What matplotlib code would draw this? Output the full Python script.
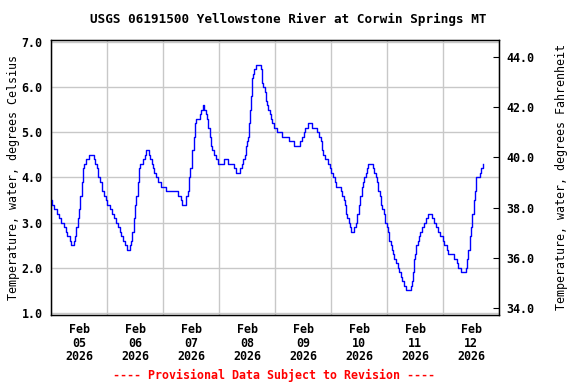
import numpy as np
import pandas as pd
import matplotlib
matplotlib.use("Agg")
import matplotlib.pyplot as plt
import matplotlib.dates as mdates

# hours after 2026-02-05 00:00 where the reading changes, and the reading (deg C)
hours = [0.0, 0.5, 1.2, 2.4, 3.3, 4.4, 5.4, 6.3, 7.0, 8.0, 8.7, 9.7, 10.3, 10.9,
         11.4, 12.0, 12.6, 13.2, 13.7, 14.3, 15.0, 16.3, 18.6, 18.9, 19.7, 20.3,
         20.9, 21.7, 22.6, 23.4, 24.2, 25.2, 26.0, 27.0, 28.0, 28.7, 29.4, 30.0,
         30.9, 31.9, 32.6, 33.7, 34.3, 34.9, 35.4, 36.0, 36.6, 37.2, 37.7, 38.3,
         39.4, 40.2, 40.9, 42.0, 42.6, 43.2, 43.7, 44.3, 44.9, 45.7, 47.2, 49.2,
         54.6, 55.5, 56.2, 57.7, 58.0, 58.6, 59.2, 59.7, 60.3, 60.6, 61.2, 61.7,
         62.3, 63.7, 64.3, 65.2, 65.7, 66.3, 66.9, 67.4, 68.0, 68.6, 69.1, 70.0,
         70.9, 71.4, 74.0, 75.9, 78.3, 79.4, 81.2, 81.7, 82.3, 83.0, 83.5, 84.0,
         84.6, 84.9, 85.2, 85.8, 86.3, 86.6, 87.2, 87.8, 89.8, 90.3, 90.6, 90.9,
         91.5, 92.0, 92.6, 93.2, 93.8, 94.3, 94.9, 95.5, 96.9, 99.2, 101.8, 104.0,
         106.6, 107.5, 108.3, 108.9, 110.3, 111.8, 114.0, 114.9, 115.5, 116.0,
         116.6, 117.5, 118.9, 119.5, 120.0, 120.9, 121.8, 122.3, 124.3, 124.9,
         125.5, 126.0, 126.3, 126.9, 127.5, 128.0, 128.6, 130.0, 130.6, 131.2,
         131.8, 132.6, 133.2, 133.8, 134.3, 134.9, 135.5, 136.0, 138.0, 138.6,
         139.2, 139.8, 140.3, 140.9, 141.5, 142.0, 142.6, 143.2, 143.8, 144.3,
         144.9, 145.5, 146.0, 146.6, 147.2, 147.8, 148.6, 149.2, 149.8, 150.3,
         151.2, 152.0, 154.3, 154.9, 155.2, 155.5, 156.0, 156.6, 157.2, 157.8,
         158.3, 158.9, 159.8, 160.6, 161.5, 163.2, 164.3, 165.2, 166.0, 166.9,
         167.8, 168.6, 169.5, 170.3, 172.9, 173.8, 174.6, 175.5, 178.0, 178.3,
         178.9, 179.5, 180.0, 180.6, 181.2, 181.8, 182.3, 183.8, 184.3, 185.2]
temp_c = [3.5, 3.4, 3.3, 3.2, 3.1, 3.0, 2.9, 2.8, 2.7, 2.6, 2.5, 2.6, 2.7, 2.9,
          3.1, 3.3, 3.6, 3.9, 4.2, 4.3, 4.4, 4.5, 4.4, 4.3, 4.2, 4.0,
          3.9, 3.7, 3.6, 3.5, 3.4, 3.3, 3.2, 3.1, 3.0, 2.9, 2.8, 2.7,
          2.6, 2.5, 2.4, 2.5, 2.6, 2.8, 3.1, 3.4, 3.6, 3.9, 4.2, 4.3,
          4.4, 4.5, 4.6, 4.5, 4.4, 4.3, 4.2, 4.1, 4.0, 3.9, 3.8, 3.7,
          3.6, 3.5, 3.4, 3.5, 3.6, 3.7, 4.0, 4.2, 4.4, 4.6, 4.9, 5.2,
          5.3, 5.4, 5.5, 5.6, 5.5, 5.4, 5.3, 5.1, 4.9, 4.7, 4.6, 4.5,
          4.4, 4.3, 4.4, 4.3, 4.2, 4.1, 4.2, 4.3, 4.4, 4.5, 4.7, 4.8,
          4.9, 5.2, 5.5, 5.8, 6.2, 6.3, 6.4, 6.5, 6.4, 6.3, 6.1, 6.0,
          5.9, 5.7, 5.6, 5.5, 5.4, 5.3, 5.2, 5.1, 5.0, 4.9, 4.8, 4.7,
          4.8, 4.9, 5.0, 5.1, 5.2, 5.1, 5.0, 4.9, 4.8, 4.6,
          4.5, 4.4, 4.3, 4.2, 4.1, 4.0, 3.9, 3.8, 3.7, 3.6,
          3.5, 3.4, 3.2, 3.1, 3.0, 2.9, 2.8, 2.9, 3.0, 3.2,
          3.4, 3.6, 3.8, 3.9, 4.0, 4.1, 4.2, 4.3, 4.2, 4.1,
          4.0, 3.9, 3.7, 3.6, 3.4, 3.3, 3.2, 3.0, 2.9, 2.8,
          2.6, 2.5, 2.4, 2.3, 2.2, 2.1, 2.0, 1.9, 1.8, 1.7,
          1.6, 1.5, 1.6, 1.7, 1.9, 2.2, 2.3, 2.5, 2.6, 2.7,
          2.8, 2.9, 3.0, 3.1, 3.2, 3.1, 3.0, 2.9, 2.8, 2.7,
          2.6, 2.5, 2.4, 2.3, 2.2, 2.1, 2.0, 1.9, 2.0, 2.2,
          2.4, 2.7, 2.9, 3.2, 3.5, 3.7, 4.0, 4.1, 4.2, 4.3]

c_ticks = [1.0, 2.0, 3.0, 4.0, 5.0, 6.0, 7.0]
f_ticks = [34.0, 36.0, 38.0, 40.0, 42.0, 44.0]

start = pd.Timestamp("2026-02-05 00:00")
end = pd.Timestamp("2026-02-13 00:00")
times = start + pd.to_timedelta(hours, unit="h")

plt.rcParams['font.family'] = ['DejaVu Sans Mono']
plt.rcParams['font.weight'] = 'bold'
fs = 8.4

fig = plt.figure(figsize=(5.76, 3.84), dpi=100)
ax = fig.add_axes([51/576, 1 - 315/384, 448/576, 275/384])

ax.plot(times, temp_c, color='#0000ff', lw=1.0, drawstyle='steps-post', zorder=3)

ax.set_xlim(start, end)
ax.set_ylim(0.95, 7.05)
ax.set_yticks(c_ticks)
ax.set_yticklabels([f"{v:.1f}" for v in c_ticks])

# gridlines at midnight, date labels at noon
ax.xaxis.set_major_locator(mdates.DayLocator())
ax.xaxis.set_major_formatter(plt.NullFormatter())
ax.xaxis.set_minor_locator(mdates.HourLocator(byhour=[12]))
ax.xaxis.set_minor_formatter(mdates.DateFormatter("%b\n%d\n%Y"))
ax.tick_params(axis='x', which='both', length=0, labelsize=fs, pad=6)
for lab in ax.xaxis.get_minorticklabels():
    lab.set_linespacing(1.05)
ax.tick_params(axis='y', length=0, labelsize=fs, pad=6)
ax.grid(True, which='major', color='#c8c8c8', lw=1.0)
for sp in ax.spines.values():
    sp.set_linewidth(1.0)

ax.set_ylabel("Temperature, water, degrees Celsius", fontsize=fs, labelpad=1)

ax2 = ax.twinx()
ax2.set_ylim(0.95 * 1.8 + 32, 7.05 * 1.8 + 32)
ax2.set_yticks(f_ticks)
ax2.set_yticklabels([f"{v:.1f}" for v in f_ticks])
ax2.tick_params(axis='y', direction='in', length=4, labelsize=fs, pad=5)
ax2.set_ylabel("Temperature, water, degrees Fahrenheit", fontsize=fs, labelpad=15)

fig.text(288/576, 1 - 19/384, "USGS 06191500 Yellowstone River at Corwin Springs MT",
         ha='center', va='center', fontsize=9.1, fontweight='bold')
fig.text(274/576, 1 - 375/384, "---- Provisional Data Subject to Revision ----",
         ha='center', va='center', fontsize=fs, fontweight='bold', color='#ff0000')

fig.savefig("out.png", dpi=100)
